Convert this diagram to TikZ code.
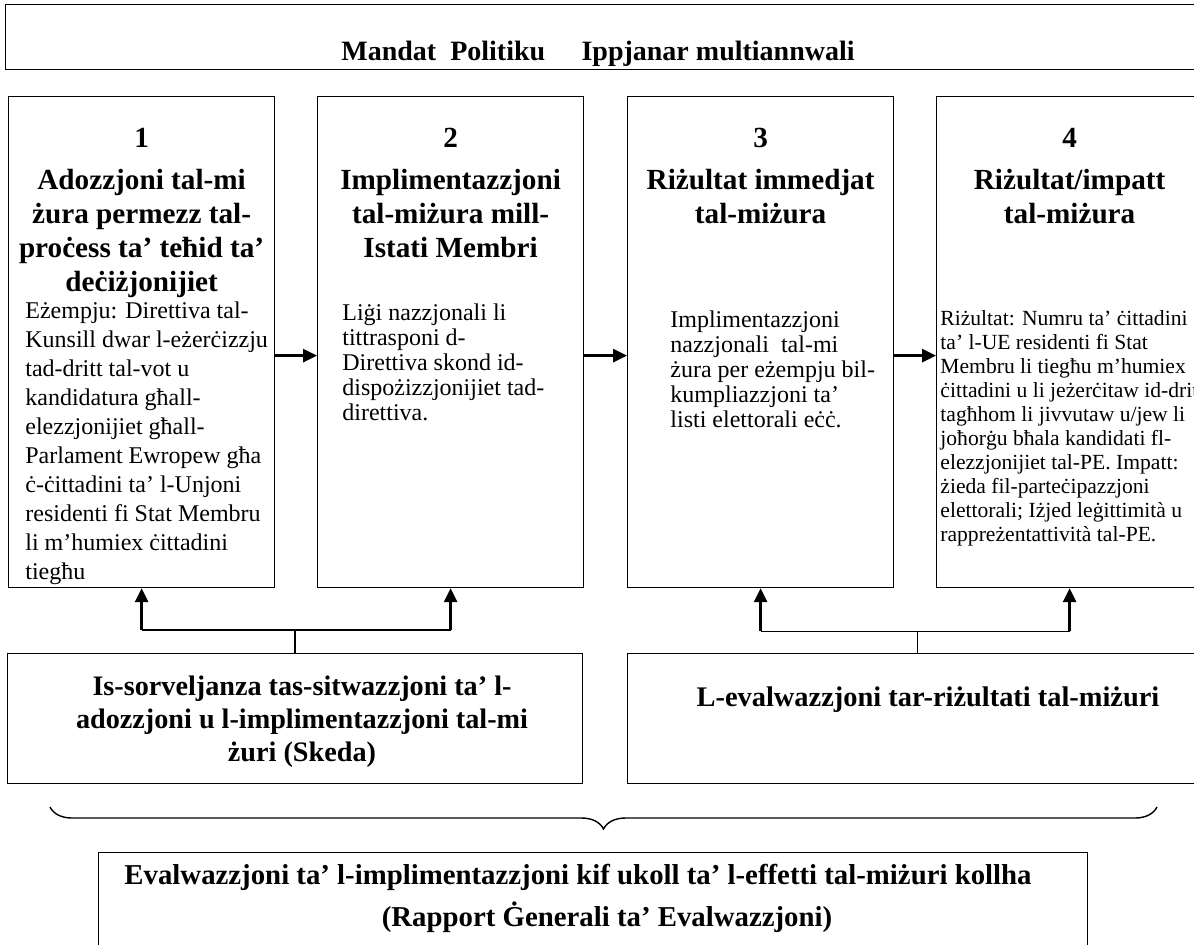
\documentclass[tikz,border=0pt]{standalone}
\usepackage{fontspec}
\setmainfont{Liberation Serif}
\usetikzlibrary{arrows.meta,decorations.pathreplacing,calc}

\tikzset{
  caja/.style={draw, line width=0.6pt, inner sep=0pt, anchor=north west},
  titulo/.style={font=\fontsize{14.6}{17}\selectfont\bfseries, align=center, anchor=north, inner sep=0pt},
  cuerpo/.style={font=\fontsize{12}{12.5}\selectfont, align=left, anchor=north west, inner sep=0pt},
  sub/.style={font=\fontsize{14.1}{16.5}\selectfont\bfseries, align=center, inner sep=0pt},
  flecha/.style={line width=1.4pt, -{Triangle[length=7pt,width=6.5pt]}},
  fino/.style={line width=0.7pt},
}

\begin{document}
\begin{tikzpicture}[x=0.5pt, y=-0.5pt]
    \useasboundingbox (0,0) rectangle (1194,944);

    % Mandat
    \node[caja, minimum width=600pt, minimum height=32.5pt] (mandat) at (5,4) {};
    \node[font=\fontsize{14}{17}\selectfont\bfseries, inner sep=0pt] (tmandat) at (598,54)
        {Mandat\hspace{0.5em}Politiku\hspace{1.3em}Ippjanar multiannwali};

    % Passi 1-4
    \foreach \i/\x in {1/8, 2/317, 3/627, 4/936} {
        \node[caja, minimum width=133pt, minimum height=245.5pt] (c\i) at (\x,96) {};
    }
    \node[titulo] (h1) at ($(c1.north)+(0,32)$)
        {1\\[4pt]Adozzjoni tal-mi\\żura permezz tal-\\proċess ta’ teħid ta’\\deċiżjonijiet};
    \node[titulo] (h2) at ($(c2.north)+(0,32)$)
        {2\\[4pt]Implimentazzjoni\\tal-miżura mill-\\Istati Membri};
    \node[titulo] (h3) at ($(c3.north)+(0,32)$)
        {3\\[4pt]Riżultat immedjat\\tal-miżura};
    \node[titulo] (h4) at ($(c4.north)+(0,32)$)
        {4\\[4pt]Riżultat/impatt\\tal-miżura};

    \node[cuerpo, font=\fontsize{12}{14.5}\selectfont] (b1) at ($(c1.north west)+(17,205)$)
        {Eżempju: Direttiva tal-\\Kunsill dwar l-eżerċizzju\\tad-dritt tal-vot u\\kandidatura għall-\\elezzjonijiet għall-\\Parlament Ewropew għa\\ċ-ċittadini ta’ l-Unjoni\\residenti fi Stat Membru\\li m’humiex ċittadini\\tiegħu};
    \node[cuerpo] (b2) at ($(c2.north west)+(25,207)$)
        {Liġi nazzjonali li\\tittrasponi d-\\Direttiva skond id-\\dispożizzjonijiet tad-\\direttiva.};
    \node[cuerpo] (b3) at ($(c3.north west)+(43,214)$)
        {Implimentazzjoni\\nazzjonali\ \ tal-mi\\żura per eżempju bil-\\kumpliazzjoni ta’\\listi elettorali eċċ.};
    \node[cuerpo, font=\fontsize{10.8}{12}\selectfont] (b4) at ($(c4.north west)+(4,214)$)
        {Riżultat: Numru ta’ ċittadini\\ta’ l-UE residenti fi Stat\\Membru li tiegħu m’humiex\\ċittadini u li jeżerċitaw id-dritt\\tagħhom li jivvutaw u/jew li\\joħorġu bħala kandidati fl-\\elezzjonijiet tal-PE. Impatt:\\żieda fil-parteċipazzjoni\\elettorali; Iżjed leġittimità u\\rappreżentattività tal-PE.};

    \foreach \a/\b in {c1/c2, c2/c3, c3/c4} {
        \draw[flecha] ([yshift=-6.75pt]\a.east) -- ([yshift=-6.75pt]\b.west);
    }

    % Sorveljanza u evalwazzjoni
    \node[caja, minimum width=287.5pt, minimum height=65pt] (s1) at (7,653) {};
    \node[caja, minimum width=290pt, minimum height=65pt] (s2) at (627,653) {};
    \node[sub] (ts1) at (302,722)
        {Is-sorveljanza tas-sitwazzjoni ta’ l-\\adozzjoni u l-implimentazzjoni tal-mi\\żuri (Skeda)};
    \node[sub, font=\fontsize{14.2}{16.5}\selectfont\bfseries] (ts2) at (928,700)
        {L-evalwazzjoni tar-riżultati tal-miżuri};

    \coordinate (j1) at ($(s1.north)+(0,-23)$);
    \coordinate (j2) at ($(c3.south)!.5!(c4.south)+(0,43)$);
    \draw[fino] (s1.north) -- (j1);
    \draw[fino] (c1.south |- j1) -- (c2.south |- j1);
    \draw[fino] (s2.north |- j2) -- (s2.north |- s2.north);
    \draw[fino] (c3.south |- j2) -- (c4.south |- j2);
    \foreach \c/\j in {c1/j1, c2/j1, c3/j2, c4/j2} {
        \draw[flecha] (\c.south |- \j) -- (\c.south);
    }

    % Grafa
    \coordinate (gl) at (50,807);
    \coordinate (gr) at (1157,807);
    \draw[decorate, decoration={brace, mirror, amplitude=11pt}, line width=0.7pt] (gl) -- (gr);

    % Evalwazzjoni generali
    \node[caja, minimum width=494.5pt, minimum height=60pt] (eval) at (98,852) {};
    \node[font=\fontsize{14.4}{20}\selectfont\bfseries, inner sep=0pt] (te1) at (578,877)
        {Evalwazzjoni ta’ l-implimentazzjoni kif ukoll ta’ l-effetti tal-miżuri kollha};
    \node[font=\fontsize{14.4}{20}\selectfont\bfseries, inner sep=0pt] (te2) at (607,917)
        {(Rapport Ġenerali ta’ Evalwazzjoni)};
\end{tikzpicture}
\end{document}
